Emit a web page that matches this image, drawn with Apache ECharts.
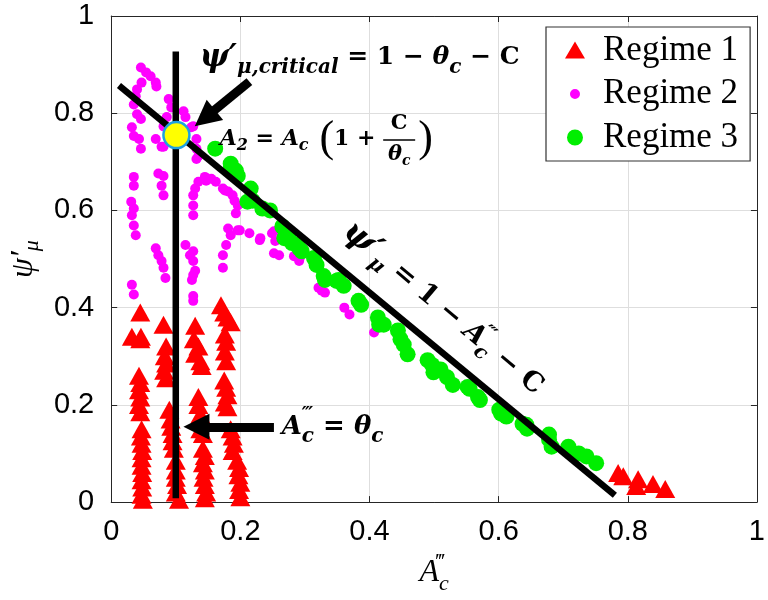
<!DOCTYPE html>
<html><head><meta charset="utf-8">
<script src="https://cdn.jsdelivr.net/npm/echarts@6/dist/echarts.min.js"></script>
<style>html,body{margin:0;padding:0;background:#fff}#c{width:768px;height:600px}</style>
</head><body><div id="c"></div>
<script>
const xTicks = [0, 0.2, 0.4, 0.6, 0.8, 1];
const yTicks = [0, 0.2, 0.4, 0.6, 0.8, 1];
const seriesNames = ['Regime 1', 'Regime 2', 'Regime 3'];

const regime1 = [
  [0.045,0.39],[0.032,0.34],[0.046,0.34],[0.045,0.335],
  [0.043,0.26],[0.045,0.245],[0.043,0.23],[0.045,0.215],[0.043,0.2],[0.045,0.185],
  [0.047,0.15],[0.046,0.135],[0.047,0.12],[0.048,0.105],[0.047,0.09],
  [0.047,0.075],[0.048,0.06],[0.047,0.045],[0.048,0.03],[0.047,0.015],[0.049,0.005],
  [0.081,0.365],[0.085,0.32],[0.083,0.3],[0.085,0.285],[0.082,0.27],[0.085,0.255],
  [0.09,0.19],[0.092,0.17],[0.093,0.155],[0.095,0.14],[0.095,0.125],[0.097,0.11],
  [0.1,0.085],[0.1,0.065],[0.1,0.05],[0.102,0.035],[0.1,0.02],[0.105,0.005],
  [0.13,0.363],[0.128,0.335],[0.135,0.32],[0.13,0.305],[0.138,0.29],[0.14,0.28],
  [0.135,0.216],[0.135,0.2],[0.138,0.18],[0.14,0.165],[0.138,0.15],[0.142,0.14],
  [0.142,0.11],[0.145,0.095],[0.142,0.08],[0.145,0.065],[0.143,0.05],[0.145,0.035],[0.147,0.02],[0.145,0.008],
  [0.17,0.405],[0.175,0.39],[0.18,0.38],[0.185,0.37],
  [0.176,0.345],[0.178,0.33],[0.176,0.31],[0.178,0.29],
  [0.175,0.25],[0.178,0.235],[0.18,0.22],[0.176,0.205],[0.18,0.195],
  [0.185,0.15],[0.188,0.135],[0.19,0.12],[0.188,0.105],
  [0.195,0.085],[0.198,0.07],[0.197,0.055],[0.2,0.04],[0.198,0.025],[0.2,0.01],
  [0.785,0.06],[0.793,0.053],[0.816,0.047],[0.813,0.033],[0.839,0.037],[0.858,0.027]
];

const regime2 = [
  [0.046,0.894],[0.054,0.884],[0.061,0.876],[0.069,0.863],[0.070,0.855],[0.047,0.863],
  [0.040,0.849],[0.038,0.835],[0.035,0.818],[0.040,0.798],[0.046,0.788],[0.032,0.771],
  [0.035,0.753],[0.043,0.747],[0.046,0.727],[0.089,0.829],[0.093,0.812],[0.112,0.804],
  [0.115,0.792],[0.086,0.792],[0.081,0.773],[0.081,0.731],[0.124,0.771],[0.132,0.747],
  [0.132,0.727],[0.127,0.773],[0.135,0.712],[0.069,0.747],[0.078,0.731],
  [0.035,0.669],[0.035,0.651],[0.031,0.618],[0.035,0.604],[0.032,0.590],[0.035,0.569],
  [0.038,0.549],[0.032,0.447],[0.035,0.427],[0.073,0.676],[0.081,0.671],[0.078,0.651],
  [0.081,0.631],[0.069,0.522],[0.073,0.508],[0.078,0.496],[0.081,0.482],[0.084,0.461],
  [0.145,0.669],[0.155,0.665],[0.135,0.659],[0.130,0.645],[0.127,0.631],[0.127,0.610],
  [0.162,0.659],[0.173,0.645],[0.181,0.639],[0.191,0.620],[0.115,0.529],[0.122,0.508],
  [0.127,0.496],[0.130,0.476],[0.127,0.414],[0.185,0.549],[0.199,0.559],[0.178,0.529],
  [0.173,0.508],[0.173,0.482],[0.132,0.706],[0.147,0.661],[0.176,0.641],[0.188,0.631],
  [0.196,0.610],[0.193,0.594],[0.127,0.590],[0.181,0.563],[0.196,0.559],[0.214,0.553],
  [0.231,0.543],[0.249,0.553],[0.254,0.537],[0.252,0.512],[0.260,0.508],[0.283,0.506],
  [0.291,0.496],[0.127,0.516],[0.127,0.467],[0.125,0.457],[0.321,0.441],[0.326,0.435],
  [0.331,0.431],[0.230,0.539],[0.252,0.557],[0.292,0.502],[0.361,0.400],[0.369,0.386],
  [0.407,0.349],[0.127,0.424]
];

const regime3 = [
  [0.161,0.727],[0.185,0.696],[0.193,0.682],[0.211,0.618],[0.185,0.686],[0.196,0.671],
  [0.216,0.645],[0.219,0.620],[0.234,0.604],[0.246,0.600],[0.265,0.567],[0.275,0.543],
  [0.288,0.529],[0.295,0.516],[0.314,0.502],[0.318,0.488],[0.331,0.457],[0.352,0.457],
  [0.360,0.445],[0.383,0.414],[0.268,0.543],[0.280,0.533],[0.291,0.522],[0.329,0.465],
  [0.349,0.455],[0.387,0.406],[0.413,0.380],[0.415,0.365],[0.444,0.353],[0.448,0.335],
  [0.459,0.304],[0.490,0.292],[0.497,0.282],[0.510,0.273],[0.422,0.365],[0.453,0.324],
  [0.499,0.267],[0.520,0.257],[0.529,0.241],[0.552,0.237],[0.568,0.216],[0.601,0.190],
  [0.612,0.176],[0.637,0.161],[0.644,0.151],[0.678,0.139],[0.682,0.114],[0.708,0.114],
  [0.724,0.100],[0.736,0.094],[0.751,0.080],[0.555,0.233],[0.571,0.210],[0.604,0.182],
  [0.643,0.159],[0.678,0.129],[0.708,0.110]
];

const criticalPoint = [[0.101, 0.755]];
const verticalLine = [[0.1, 0.008], [0.1, 0.927]];
const diagonalLine = [[0.012, 0.857], [0.78, 0.014]];
const arrowCritical = [[0.214, 0.865], [0.145, 0.79]];
const arrowTheta = [[0.252, 0.155], [0.132, 0.155]];
const labelCritical = [0.137, 0.914];
const labelA2 = [0.168, 0.747];
const labelDiag = [0.514, 0.398];
const labelTheta = [0.264, 0.155];

const FRAME = '#262626';
const BOX = 'M0,0L0.01,0M24,24L24.01,24';
const iconTri = 'path://' + BOX + 'M2,20L12,3L22,20Z';
const iconDot = 'path://' + BOX + 'M7,12A5,5 0 1,0 17,12A5,5 0 1,0 7,12Z';
const iconCircle = 'path://' + BOX + 'M4,12A8,8 0 1,0 20,12A8,8 0 1,0 4,12Z';

const chart = echarts.init(document.getElementById('c'), null, {renderer: 'canvas'});
const axisBase = {
  type: 'value', min: 0, max: 1, interval: 0.2,
  axisLine: {show: true, onZero: false, lineStyle: {color: FRAME, width: 1}},
  axisTick: {show: true, inside: true, length: 6, lineStyle: {color: FRAME}},
};
const labelFont = {fontFamily: 'Liberation Sans', fontSize: 29, color: '#000'};
const serif = 'Liberation Serif';
const mserif = 'DejaVu Serif';

chart.setOption({
  animation: false,
  backgroundColor: '#fff',
  grid: {left: 107, right: 6, top: 16, bottom: 94},
  xAxis: [
    Object.assign({}, axisBase, {
      position: 'bottom',
      axisLabel: Object.assign({margin: 15, formatter: v => String(+v.toFixed(1))}, labelFont),
      splitLine: {show: true, lineStyle: {color: '#dedede', width: 1}},
      name: '{a|A}{sup|‴}{sub|c}', nameLocation: 'middle', nameGap: 48,
      nameTextStyle: {rich: {
        a: {fontFamily: serif, fontStyle: 'italic', fontSize: 32, lineHeight: 40, color: '#000'},
        sup: {fontFamily: serif, fontStyle: 'italic', fontSize: 22, lineHeight: 44, verticalAlign: 'top', width: 0, color: '#000'},
        sub: {fontFamily: serif, fontStyle: 'italic', fontSize: 22, lineHeight: 22, verticalAlign: 'bottom', color: '#000'}
      }}
    }),
    Object.assign({}, axisBase, {position: 'top', axisLabel: {show: false}, splitLine: {show: false}})
  ],
  yAxis: [
    Object.assign({}, axisBase, {
      position: 'left',
      axisLabel: Object.assign({margin: 17, formatter: v => String(+v.toFixed(1))}, labelFont),
      splitLine: {show: true, lineStyle: {color: '#dedede', width: 1}},
      name: '{a|ψ′}{sub|μ}', nameLocation: 'middle', nameGap: 68,
      nameTextStyle: {rich: {
        a: {fontFamily: serif, fontStyle: 'italic', fontSize: 32, lineHeight: 38, color: '#000'},
        sub: {fontFamily: serif, fontStyle: 'italic', fontSize: 22, lineHeight: 22, verticalAlign: 'bottom', color: '#000'}
      }}
    }),
    Object.assign({}, axisBase, {position: 'right', axisLabel: {show: false}, splitLine: {show: false}})
  ],
  legend: {
    orient: 'vertical', left: 546, top: 27,
    padding: [6, 12, 6, 17],
    itemWidth: 24, itemHeight: 24, itemGap: 8.5,
    backgroundColor: '#fff', borderColor: '#333', borderWidth: 1.2, borderRadius: 0,
    textStyle: {fontFamily: serif, fontSize: 35, lineHeight: 34, color: '#000', padding: [0, 0, 0, 11]},
    data: [
      {name: seriesNames[0], icon: iconTri},
      {name: seriesNames[1], icon: iconDot},
      {name: seriesNames[2], icon: iconCircle}
    ],
    selectedMode: false
  },
  series: [
    {name: seriesNames[0], type: 'scatter', data: regime1, symbol: 'triangle', symbolSize: [20, 18],
     itemStyle: {color: '#ff0000', opacity: 1}, z: 3, silent: true},
    {name: seriesNames[1], type: 'scatter', data: regime2, symbol: 'circle', symbolSize: 10,
     itemStyle: {color: '#ff00ff', opacity: 1}, z: 3, silent: true},
    {name: seriesNames[2], type: 'scatter', data: regime3, symbol: 'circle', symbolSize: 16,
     itemStyle: {color: '#00ee00', opacity: 1}, z: 3, silent: true},
    {type: 'line', data: verticalLine, symbol: 'none', lineStyle: {color: '#000', width: 6.5}, z: 5, silent: true},
    {type: 'line', data: diagonalLine, symbol: 'none', lineStyle: {color: '#000', width: 6.5}, z: 5, silent: true,
     markLine: {
       silent: true, animation: false,
       symbol: ['none', 'triangle'], symbolSize: 26,
       lineStyle: {color: '#000', width: 9, type: 'solid'},
       label: {show: false},
       data: [
         [{coord: arrowCritical[0]}, {coord: arrowCritical[1]}],
         [{coord: arrowTheta[0]}, {coord: arrowTheta[1]}]
       ]
     }},
    {type: 'scatter', data: criticalPoint, symbol: 'circle', symbolSize: 26,
     itemStyle: {color: '#ffff00', borderColor: '#1ea0e0', borderWidth: 2.5, opacity: 1}, z: 6, silent: true}
  ]
});

function px(pt) { return chart.convertToPixel({gridIndex: 0}, pt); }
function measure(style) { return new echarts.graphic.Text({style: style}).getBoundingRect(); }

const B = {fontFamily: mserif, fontWeight: 'bold', color: '#000'};
const BI = {fontFamily: mserif, fontWeight: 'bold', fontStyle: 'italic', color: '#000'};
function st(base, extra) { return Object.assign({}, base, extra); }

const pC = px(labelCritical);
const pA = px(labelA2);
const pD = px(labelDiag);
const pT = px(labelTheta);

const a2Style = {
  text: '{i|A}{s|2}{n| = }{i|A}{s|c}{p| (}{n|1 + }',
  rich: {
    i: st(BI, {fontSize: 22, lineHeight: 40}),
    n: st(B, {fontSize: 22, lineHeight: 40}),
    s: st(BI, {fontSize: 16, lineHeight: 16, verticalAlign: 'bottom', padding: [0, 0, 5, 0]}),
    p: {fontFamily: serif, fontSize: 44, lineHeight: 40, color: '#000'}
  },
  align: 'left', verticalAlign: 'middle'
};
const a2Rect = measure(a2Style);
const fracX = pA[0] + a2Rect.width + 16;

chart.setOption({
  graphic: [
    {type: 'text', x: pC[0], y: pC[1], z: 10, silent: true, style: {
      text: '{p|ψ′}{s|μ,critical}{n| = 1 − }{i|θ}{s|c}{n| − C}',
      rich: {
        p: st(BI, {fontSize: 31, lineHeight: 40}),
        i: st(BI, {fontSize: 25, lineHeight: 40}),
        n: st(B, {fontSize: 25, lineHeight: 40}),
        s: st(BI, {fontSize: 20, lineHeight: 20, verticalAlign: 'bottom'})
      },
      align: 'left', verticalAlign: 'middle'
    }},
    {type: 'text', x: pA[0], y: pA[1], z: 10, silent: true, style: a2Style},
    {type: 'text', x: fracX, y: pA[1] - 15, z: 10, silent: true, style: {
      text: 'C', font: 'bold 21px "DejaVu Serif"', fill: '#000', align: 'center', verticalAlign: 'middle'}},
    {type: 'line', z: 10, silent: true, shape: {x1: fracX - 16, y1: pA[1] + 1, x2: fracX + 16, y2: pA[1] + 1},
     style: {stroke: '#000', lineWidth: 1.6}},
    {type: 'text', x: fracX, y: pA[1] + 16, z: 10, silent: true, style: {
      text: '{i|θ}{s|c}', rich: {
        i: st(BI, {fontSize: 21, lineHeight: 26}),
        s: st(BI, {fontSize: 14, lineHeight: 14, verticalAlign: 'bottom'})
      }, align: 'center', verticalAlign: 'middle'}},
    {type: 'text', x: fracX + 19, y: pA[1], z: 10, silent: true, style: {
      text: ')', font: '44px "Liberation Serif"', fill: '#000', align: 'left', verticalAlign: 'middle'}},
    {type: 'text', x: pD[0], y: pD[1], rotation: -0.70, z: 10, silent: true, style: {
      text: '{p|ψ′}{s|μ}{n| = 1 − }{i|A}{sup|‴}{s|c}{n| − C}',
      rich: {
        p: st(BI, {fontSize: 33, lineHeight: 40}),
        i: st(BI, {fontSize: 27, lineHeight: 40}),
        n: st(B, {fontSize: 27, lineHeight: 40}),
        sup: st(BI, {fontSize: 18, lineHeight: 40, verticalAlign: 'top', width: 0}),
        s: st(BI, {fontSize: 20, lineHeight: 20, verticalAlign: 'bottom'})
      },
      align: 'center', verticalAlign: 'middle'
    }},
    {type: 'text', x: pT[0], y: pT[1], z: 10, silent: true, style: {
      text: '{i|A}{sup|‴}{s|c}{n| = }{i|θ}{s|c}',
      rich: {
        i: st(BI, {fontSize: 26, lineHeight: 40}),
        n: st(B, {fontSize: 26, lineHeight: 40}),
        sup: st(BI, {fontSize: 18, lineHeight: 40, verticalAlign: 'top', width: 0}),
        s: st(BI, {fontSize: 20, lineHeight: 20, verticalAlign: 'bottom'})
      },
      align: 'left', verticalAlign: 'middle'
    }}
  ]
});
</script>
</body></html>
